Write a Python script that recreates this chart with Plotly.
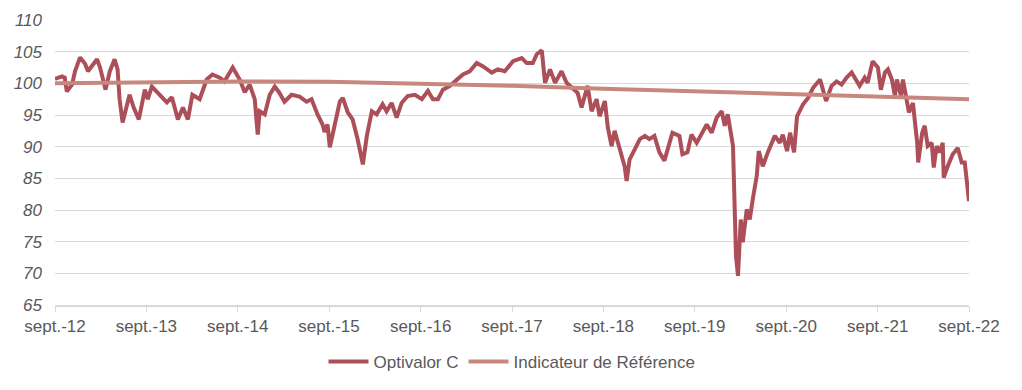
import plotly.graph_objects as go

opt_dates = [
    "2012-09-01", "2012-09-29", "2012-10-10", "2012-10-18", "2012-11-08", "2012-11-20",
    "2012-12-10", "2012-12-30", "2013-01-11", "2013-02-16", "2013-02-28", "2013-03-22",
    "2013-04-08", "2013-04-27", "2013-05-09", "2013-05-17", "2013-05-29", "2013-06-14",
    "2013-06-26", "2013-07-12", "2013-08-02", "2013-08-26", "2013-09-07", "2013-09-23",
    "2013-10-24", "2013-11-22", "2013-12-12", "2014-01-05", "2014-01-25", "2014-02-14",
    "2014-03-04", "2014-04-02", "2014-04-30", "2014-05-23", "2014-06-21", "2014-07-10",
    "2014-08-12", "2014-09-09", "2014-09-29", "2014-10-19", "2014-11-08", "2014-11-20",
    "2014-11-28", "2014-12-18", "2015-01-07", "2015-01-27", "2015-02-13", "2015-03-07",
    "2015-04-04", "2015-05-06", "2015-06-03", "2015-06-23", "2015-07-17", "2015-08-06",
    "2015-08-14", "2015-08-26", "2015-09-04", "2015-09-24", "2015-10-14", "2015-10-26",
    "2015-11-15", "2015-12-04", "2015-12-24", "2016-01-14", "2016-01-30", "2016-02-19",
    "2016-03-09", "2016-04-02", "2016-04-18", "2016-05-08", "2016-05-28", "2016-06-17",
    "2016-07-11", "2016-08-09", "2016-09-06", "2016-09-30", "2016-10-20", "2016-11-09",
    "2016-11-29", "2016-12-27", "2017-01-24", "2017-02-17", "2017-03-16", "2017-04-13",
    "2017-05-07", "2017-06-12", "2017-07-06", "2017-08-03", "2017-09-05", "2017-10-10",
    "2017-10-30", "2017-11-23", "2017-12-09", "2017-12-29", "2018-01-11", "2018-01-31",
    "2018-02-20", "2018-03-18", "2018-04-07", "2018-05-01", "2018-05-21", "2018-06-06",
    "2018-06-30", "2018-07-16", "2018-08-05", "2018-08-17", "2018-09-07", "2018-09-19",
    "2018-10-04", "2018-10-16", "2018-11-05", "2018-11-25", "2018-12-03", "2018-12-15",
    "2019-01-05", "2019-01-25", "2019-02-14", "2019-03-04", "2019-03-24", "2019-04-13",
    "2019-05-03", "2019-05-23", "2019-06-04", "2019-07-02", "2019-07-14", "2019-08-03",
    "2019-08-19", "2019-09-09", "2019-09-29", "2019-10-19", "2019-11-08", "2019-11-28",
    "2019-12-18", "2019-12-30", "2020-01-11", "2020-02-01", "2020-02-13", "2020-02-21",
    "2020-03-03", "2020-03-11", "2020-03-27", "2020-04-08", "2020-04-20", "2020-05-06",
    "2020-05-14", "2020-05-30", "2020-06-19", "2020-07-17", "2020-08-06", "2020-08-18",
    "2020-09-04", "2020-09-16", "2020-10-02", "2020-10-14", "2020-11-07", "2020-11-27",
    "2020-12-17", "2021-01-14", "2021-02-07", "2021-03-01", "2021-03-21", "2021-04-10",
    "2021-04-30", "2021-05-20", "2021-06-21", "2021-07-11", "2021-07-23", "2021-08-12",
    "2021-09-02", "2021-09-14", "2021-09-30", "2021-10-12", "2021-10-28", "2021-11-09",
    "2021-11-17", "2021-12-03", "2021-12-11", "2021-12-27", "2022-01-04", "2022-01-20",
    "2022-02-06", "2022-02-10", "2022-02-26", "2022-03-08", "2022-03-20", "2022-04-05",
    "2022-04-13", "2022-04-25", "2022-05-07", "2022-05-19", "2022-05-23", "2022-06-08",
    "2022-06-28", "2022-07-18", "2022-08-03", "2022-08-15", "2022-08-23", "2022-09-01",
]

opt_values = [
    100.7, 101.1, 100.9, 98.7, 99.8, 101.9,
    104.1, 103.1, 101.9, 103.8, 102.5, 99.0,
    101.9, 103.8, 102.2, 97.5, 93.8, 96.2,
    98.2, 96.2, 94.3, 99.0, 97.5, 99.5,
    98.2, 97.0, 97.8, 94.3, 96.2, 94.3,
    98.2, 97.5, 100.6, 101.4, 100.9, 100.3,
    102.5, 100.6, 98.6, 99.8, 97.5, 91.9,
    95.6, 95.1, 98.2, 99.5, 98.6, 97.1,
    98.2, 97.9, 97.1, 97.5, 95.1, 93.5,
    92.3, 93.5, 89.9, 93.5, 97.1, 97.7,
    95.4, 94.3, 91.2, 87.2, 91.7, 95.6,
    95.1, 96.7, 95.6, 96.9, 94.6, 96.9,
    98.0, 98.2, 97.5, 98.8, 97.5, 97.5,
    99.0, 99.6, 100.6, 101.4, 101.9, 103.2,
    102.7, 101.7, 102.2, 101.9, 103.5, 104.0,
    103.2, 103.2, 104.6, 105.2, 100.1, 102.2,
    100.1, 101.9, 100.1, 99.3, 98.5, 96.2,
    99.6, 95.6, 97.5, 94.8, 97.2, 93.0,
    90.1, 92.5, 89.8, 86.9, 84.6, 88.0,
    89.6, 91.2, 91.7, 91.2, 91.7, 89.1,
    87.8, 90.6, 92.2, 91.7, 88.8, 89.1,
    91.9, 90.6, 92.2, 93.5, 92.2, 94.6,
    95.6, 93.3, 95.1, 90.1, 72.7, 69.6,
    78.5, 74.9, 80.1, 78.5, 81.7, 85.4,
    89.3, 86.9, 89.1, 91.7, 90.6, 91.9,
    89.3, 92.2, 89.1, 94.8, 96.7, 97.7,
    99.3, 100.6, 97.2, 99.6, 100.3, 99.8,
    100.9, 101.7, 99.6, 100.9, 100.1, 103.5,
    102.5, 99.0, 101.7, 102.2, 100.6, 98.0,
    100.6, 98.0, 100.6, 97.5, 95.4, 96.9,
    90.6, 87.5, 92.2, 93.3, 90.1, 90.6,
    86.7, 90.1, 89.1, 90.6, 85.1, 86.9,
    88.8, 89.8, 87.5, 87.5, 84.8, 81.4,
]

ref_dates = [
    "2012-09-01", "2013-09-01", "2014-09-01", "2015-09-01", "2016-09-01", "2017-09-01",
    "2018-09-01", "2019-09-01", "2020-09-01", "2021-09-01", "2022-09-01",
]
ref_values = [100.0, 100.15, 100.3, 100.25, 99.95, 99.6, 99.15, 98.7, 98.3, 97.9, 97.5]

tick_dates = [
    "2012-09-01", "2013-09-01", "2014-09-01", "2015-09-01", "2016-09-01", "2017-09-01",
    "2018-09-01", "2019-09-01", "2020-09-01", "2021-09-01", "2022-09-01",
]
tick_labels = [
    "sept.-12", "sept.-13", "sept.-14", "sept.-15", "sept.-16", "sept.-17",
    "sept.-18", "sept.-19", "sept.-20", "sept.-21", "sept.-22",
]
y_ticks = [65, 70, 75, 80, 85, 90, 95, 100, 105, 110]

fig = go.Figure()
fig.add_trace(go.Scatter(
    x=opt_dates, y=opt_values, mode="lines", name="Optivalor C",
    line=dict(color="#AD4F59", width=4),
))
fig.add_trace(go.Scatter(
    x=ref_dates, y=ref_values, mode="lines", name="Indicateur de Référence",
    line=dict(color="#C8877D", width=4),
))

font_family = "Liberation Sans, Arial, sans-serif"
fig.update_layout(
    width=1006, height=374,
    margin=dict(l=47, r=45, t=12, b=77, autoexpand=False),
    paper_bgcolor="white", plot_bgcolor="white",
    font=dict(family=font_family, size=17, color="#595959"),
    showlegend=True,
    legend=dict(orientation="h", x=0.5, xanchor="center", y=-0.2, yanchor="middle",
                font=dict(size=17, color="#595959"), itemwidth=40, tracegroupgap=0),
)
fig.update_xaxes(
    type="date", range=["2012-09-01", "2022-09-01"],
    tickvals=tick_dates, ticktext=tick_labels,
    showgrid=False, showline=True, linecolor="#D9D9D9", linewidth=1.5,
    ticks="outside", ticklen=5, tickcolor="#D9D9D9",
    tickfont=dict(size=17, color="#595959"), zeroline=False,
)
fig.update_yaxes(
    range=[65, 110], tickvals=y_ticks,
    showgrid=True, gridcolor="#D9D9D9", gridwidth=1.2,
    showline=False, zeroline=False, ticks="",
    tickfont=dict(size=17, color="#595959", style="italic"),
    ticklabelstandoff=12,
)

fig.write_html("out.html")
